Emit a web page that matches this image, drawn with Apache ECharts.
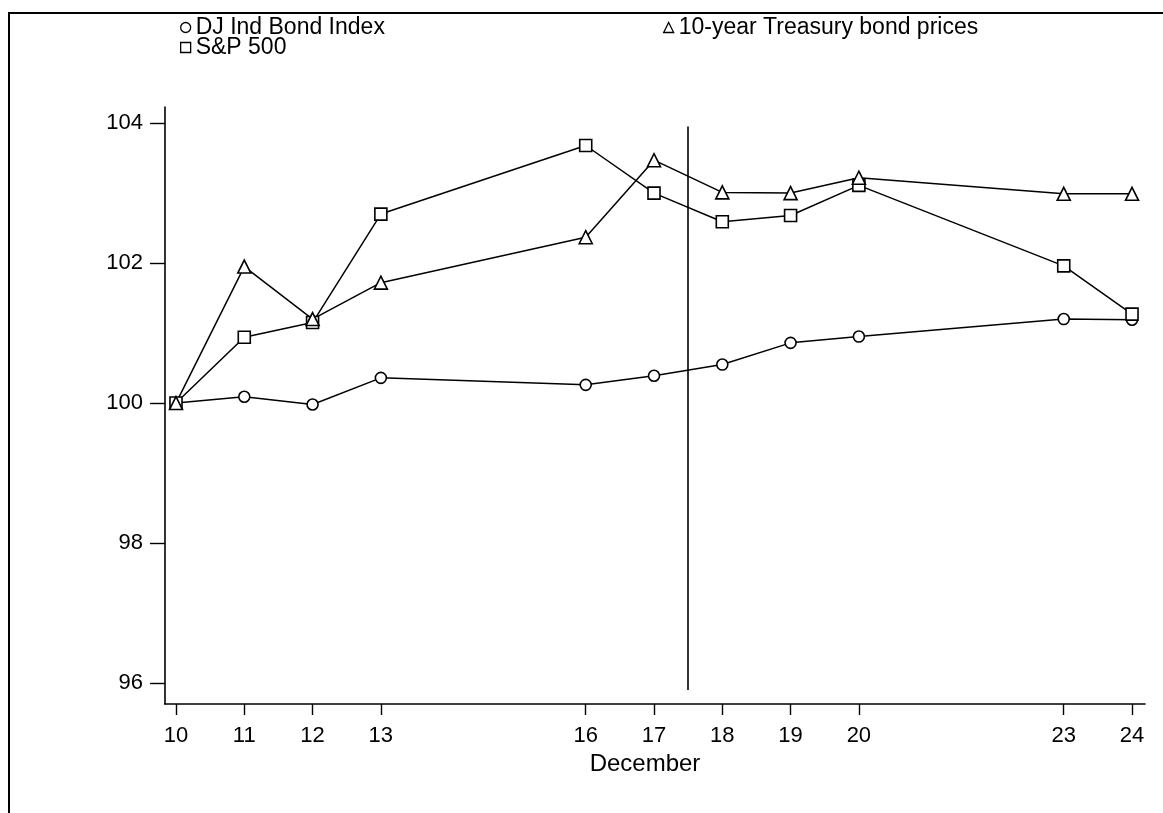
<!DOCTYPE html>
<html>
<head>
<meta charset="utf-8">
<script src="https://cdn.jsdelivr.net/npm/echarts@6/dist/echarts.min.js"></script>
<style>html,body{margin:0;padding:0;background:#fff}#c{width:1163px;height:813px}</style>
</head>
<body>
<div id="c"></div>
<script>
var days = [10, 11, 12, 13, 16, 17, 18, 19, 20, 23, 24];
var djBond = [100.0, 100.09, 99.98, 100.36, 100.26, 100.39, 100.55, 100.86, 100.95, 101.20, 101.19];
var sp500 = [100.0, 100.94, 101.15, 102.70, 103.68, 103.00, 102.59, 102.68, 103.11, 101.96, 101.27];
var treasury = [100.0, 101.95, 101.20, 101.72, 102.37, 103.47, 103.01, 103.00, 103.22, 102.99, 102.99];
var yTicks = [96, 98, 100, 102, 104];
var xTicks = days;
var splitDay = 17.5;
var splitRange = [95.9, 103.95];

function pairs(vals) { return days.map(function (d, i) { return [d, vals[i]]; }); }

var FONT = "'Liberation Sans', Arial, sans-serif";
var chart = echarts.init(document.getElementById('c'), null, { renderer: 'canvas' });
var markerStyle = { color: '#fff', borderColor: '#000', borderWidth: 1.6 };
function series(name, vals, symbol, size, extra) {
  var s = {
    name: name, type: 'line', data: pairs(vals), symbol: symbol, symbolSize: size,
    showAllSymbol: true,
    lineStyle: { color: '#000', width: 1.5 },
    itemStyle: markerStyle,
    emphasis: { disabled: true },
    animation: false
  };
  if (extra) Object.assign(s, extra);
  return s;
}
var legendText = { fontFamily: FONT, fontSize: 23, color: '#000', lineHeight: 20 };
var legendItem = { color: '#fff', borderColor: '#000', borderWidth: 1.3 };
function legend(name, icon, left, top) {
  return {
    data: [{ name: name, icon: icon }],
    orient: 'vertical', left: left, top: top, padding: 0,
    itemWidth: 10, itemHeight: 10, itemGap: 0,
    selectedMode: false,
    itemStyle: legendItem,
    textStyle: legendText
  };
}
var tickFont = { fontFamily: FONT, fontSize: 22, color: '#000' };
chart.setOption({
  animation: false,
  backgroundColor: '#fff',
  textStyle: { fontFamily: FONT, color: '#000' },
  graphic: [{
    type: 'rect', shape: { x: 9, y: 13, width: 1300, height: 900 },
    style: { fill: 'none', stroke: '#000', lineWidth: 2 }, silent: true
  }],
  legend: [
    legend('DJ Ind Bond Index', 'circle', 180, 16),
    legend('S&P 500', 'rect', 180, 36),
    legend('10-year Treasury bond prices', 'triangle', 663, 16)
  ],
  grid: { left: 165, right: 18, top: 107, bottom: 109, containLabel: false },
  xAxis: {
    type: 'value', min: 9.839, max: 24.19,
    name: 'December', nameLocation: 'middle', nameGap: 46,
    nameTextStyle: Object.assign({ padding: [0, 20, 0, 0] }, tickFont, { fontSize: 24 }),
    axisLine: { show: true, lineStyle: { color: '#000', width: 1.6 } },
    axisTick: { show: true, customValues: xTicks, length: 11, lineStyle: { color: '#000', width: 1.4 } },
    axisLabel: Object.assign({ customValues: xTicks, margin: 21 }, tickFont),
    splitLine: { show: false }
  },
  yAxis: {
    type: 'value', min: 95.7, max: 104.23,
    axisLine: { show: true, lineStyle: { color: '#000', width: 1.6 } },
    axisTick: { show: true, customValues: yTicks, length: 15, lineStyle: { color: '#000', width: 1.4 } },
    axisLabel: Object.assign({ customValues: yTicks, margin: 22 }, tickFont),
    splitLine: { show: false }
  },
  series: [
    series('DJ Ind Bond Index', djBond, 'circle', 11, {
      markLine: {
        silent: true, symbol: 'none', label: { show: false },
        lineStyle: { color: '#000', width: 1.6, type: 'solid' },
        data: [[{ coord: [splitDay, splitRange[0]] }, { coord: [splitDay, splitRange[1]] }]]
      }
    }),
    series('S&P 500', sp500, 'rect', 12),
    series('10-year Treasury bond prices', treasury, 'triangle', 13)
  ]
});
</script>
</body>
</html>
